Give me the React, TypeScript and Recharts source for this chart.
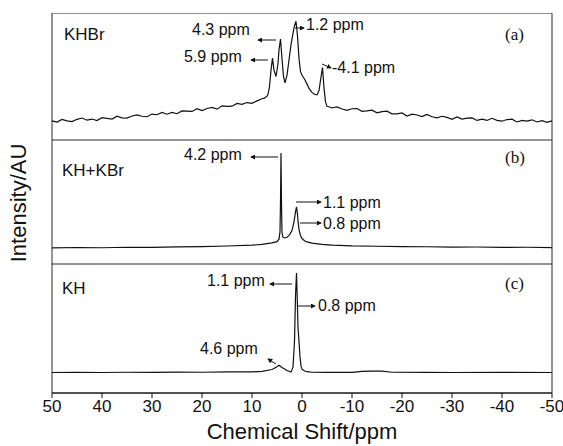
import React from "react";
import { LineChart, Line, XAxis, YAxis, ReferenceArea } from "recharts";

const FONT = '"Liberation Sans", Arial, sans-serif';

// KHBr (a)
const shiftA = [
  50, 49, 48, 47, 46, 45, 44, 43, 42, 41, 40, 39, 38, 37, 36, 35, 34, 33, 32, 31,
  30, 29, 28, 27, 26, 25, 24, 23, 22, 21, 20, 19, 18, 17, 16, 15, 14, 13, 12, 11,
  10, 9, 8, 7.5, 7, 6.8, 6.5, 6.2, 5.9, 5.6, 5.2, 4.8, 4.6, 4.3, 4.0, 3.7, 3.4, 3.0,
  2.6, 2.2, 1.8, 1.5, 1.2, 0.9, 0.6, 0.3, 0, -0.5, -1, -1.5, -2, -2.5, -3, -3.4, -3.7,
  -4.1, -4.4, -4.7, -5, -5.5, -6, -7, -8, -9, -10, -11, -12, -13, -14, -15, -16, -17,
  -18, -19, -20, -21, -22, -23, -24, -25, -26, -27, -28, -29, -30, -31, -32, -33, -34,
  -35, -36, -37, -38, -39, -40, -41, -42, -43, -44, -45, -46, -47, -48, -49, -50,
];
const intensityA = [
  15.0, 14.1, 16.2, 15.1, 14.5, 16.3, 17.3, 15.6, 16.5, 15.3, 17.6, 17.0, 16.5, 18.8, 17.4, 17.2, 18.9, 19.7, 18.7, 18.3,
  20.4, 19.9, 21.7, 20.3, 21.7, 20.7, 22.9, 22.7, 22.5, 24.6, 23.1, 24.8, 25.6, 24.3, 26.9, 26.5, 26.6, 28.8, 28.1, 29.5,
  28.9, 30.8, 32.5, 33.0, 34.5, 36, 42, 55, 64.5, 55, 50, 60, 71, 79.5, 64, 50, 45, 51,
  63, 75, 84, 90, 93.5, 82, 64, 54, 51, 48, 44, 40, 37.5, 36, 35.5, 39, 47,
  57, 41, 30, 26.5, 26.0, 25.2, 26.1, 24.4, 23.3, 24.6, 24.8, 22.6, 23.0, 23.5, 21.4, 22.3, 22.7,
  20.6, 20.6, 21.3, 18.9, 20.3, 19.7, 18.4, 20.2, 18.3, 17.4, 18.7, 17.8, 16.3, 18.2, 16.5, 17.2, 17.4,
  15.4, 16.4, 15.4, 17.1, 15.5, 14.8, 16.1, 16.4, 14.2, 15.5, 14.9, 15.9, 14.2, 15.3, 13.9, 15.1,
];

// KH+KBr (b)
const shiftB = [
  50, 45, 40, 35, 30, 25, 20, 15, 10, 8, 6, 5, 4.6, 4.4, 4.3, 4.2, 4.1, 4.0, 3.8, 3.4,
  3.0, 2.5, 2.0, 1.6, 1.3, 1.1, 0.9, 0.8, 0.6, 0.3, 0, -0.5, -1, -2, -4, -6, -10, -15,
  -20, -25, -30, -35, -40, -45, -50,
];
const intensityB = [
  13.0, 13.3, 13.1, 13.5, 13.4, 13.8, 14.0, 14.5, 15.2, 15.9, 17.0, 18.0, 20, 26, 50, 89.5, 48, 25, 21.5, 21,
  21.5, 23.5, 27, 34, 42, 46, 40, 35, 28, 23, 20.5, 18.8, 17.8, 16.8, 15.9, 15.3, 14.6, 14.3,
  14.0, 13.9, 13.6, 13.7, 13.4, 13.5, 13.2,
];

// KH (c)
const shiftC = [
  50, 45, 40, 35, 30, 25, 20, 15, 10, 8, 6, 5, 4.6, 4.0, 3.0, 2.2, 1.8, 1.5, 1.3, 1.1,
  1.0, 0.8, 0.6, 0.4, 0.2, 0, -0.5, -1, -2, -5, -10, -12, -14, -16, -18, -25, -30, -40, -50,
];
const intensityC = [
  15.9, 16.0, 15.9, 16.1, 16.0, 16.2, 16.1, 16.3, 16.3, 16.8, 18.2, 20.3, 21.5, 19.8, 17.4, 16.2, 20, 40, 75, 93,
  80, 51, 40, 28, 21, 18.5, 17, 16.5, 16.1, 16.0, 16.0, 16.8, 17.0, 16.9, 16.1, 16.0, 15.9, 16.0, 15.9,
];

const xTicks = [50, 40, 30, 20, 10, 0, -10, -20, -30, -40, -50];

const toRows = (xs: number[], ys: number[]) => xs.map((x, i) => ({ x, y: ys[i] }));

function Panel({ rows, height, showAxis }: { rows: { x: number; y: number }[]; height: number; showAxis?: boolean }) {
  return (
    <LineChart width={563} height={height} data={rows} margin={{ top: 0, right: 11, left: 52, bottom: 0 }}>
      <XAxis
        dataKey="x"
        type="number"
        domain={[-50, 50]}
        reversed
        ticks={xTicks}
        hide={!showAxis}
        height={28}
        tick={{ fontSize: 17, fill: "#111", fontFamily: FONT }}
        tickSize={5}
        axisLine={{ stroke: "#111" }}
        tickLine={{ stroke: "#111" }}
        interval={0}
      />
      <YAxis type="number" domain={[0, 100]} hide />
      <ReferenceArea x1={50} x2={-50} y1={0} y2={100} fill="none" stroke="#2a2a2a" strokeWidth={1} />
      <Line dataKey="y" type="linear" stroke="#111" strokeWidth={1.2} dot={false} isAnimationActive={false} />
    </LineChart>
  );
}

export default function App() {
  const txt = { fontFamily: FONT, fill: "#111" } as const;
  const serif = { fontFamily: '"Liberation Serif", "Times New Roman", serif', fill: "#111" } as const;
  return (
    <div style={{ position: "absolute", left: 0, top: 0, width: 563, height: 446, background: "#fff" }}>
      <div style={{ position: "absolute", left: 0, top: 13 }}>
        <Panel rows={toRows(shiftA, intensityA)} height={127} />
      </div>
      <div style={{ position: "absolute", left: 0, top: 140 }}>
        <Panel rows={toRows(shiftB, intensityB)} height={124} />
      </div>
      <div style={{ position: "absolute", left: 0, top: 264 }}>
        <Panel rows={toRows(shiftC, intensityC)} height={157} showAxis />
      </div>
      <svg width={563} height={446} style={{ position: "absolute", left: 0, top: 0, pointerEvents: "none" }}>
        <defs>
          <marker id="ah" viewBox="0 0 6 6" refX="5" refY="3" markerWidth="5" markerHeight="5" orient="auto">
            <path d="M0,0 L6,3 L0,6 z" fill="#111" />
          </marker>
        </defs>
        <g stroke="#111" strokeWidth={1} markerEnd="url(#ah)">
          {/* (a) */}
          <line x1={276} y1={40} x2={258} y2={40} />
          <line x1={268} y1={60} x2={251} y2={60} />
          <line x1={295} y1={28} x2={304} y2={28} />
          <line x1={322} y1={64} x2={331} y2={68} />
          {/* (b) */}
          <line x1={278} y1={157} x2={251} y2={157} />
          <line x1={296} y1={202} x2={321} y2={202} />
          <line x1={300} y1={223} x2={321} y2={223} />
          {/* (c) */}
          <line x1={292} y1={284} x2={270} y2={284} />
          <line x1={297} y1={306} x2={315} y2={306} />
          <line x1={276} y1={364} x2={268} y2={359} />
        </g>
        <text x={64} y={40} fontSize={17} style={txt}>KHBr</text>
        <text x={505} y={40} fontSize={17} style={serif}>(a)</text>
        <text x={192} y={35} fontSize={16} style={txt}>4.3 ppm</text>
        <text x={184} y={62} fontSize={16} style={txt}>5.9 ppm</text>
        <text x={306} y={30} fontSize={16} style={txt}>1.2 ppm</text>
        <text x={332} y={73} fontSize={16} style={txt}>-4.1 ppm</text>

        <text x={62} y={176} fontSize={17} style={txt}>KH+KBr</text>
        <text x={505} y={163} fontSize={17} style={serif}>(b)</text>
        <text x={184} y={160} fontSize={16} style={txt}>4.2 ppm</text>
        <text x={323} y={208} fontSize={16} style={txt}>1.1 ppm</text>
        <text x={323} y={229} fontSize={16} style={txt}>0.8 ppm</text>

        <text x={62} y={294} fontSize={17} style={txt}>KH</text>
        <text x={505} y={289} fontSize={17} style={serif}>(c)</text>
        <text x={207} y={286} fontSize={16} style={txt}>1.1 ppm</text>
        <text x={318} y={311} fontSize={16} style={txt}>0.8 ppm</text>
        <text x={200} y={354} fontSize={16} style={txt}>4.6 ppm</text>

        <text x={302} y={439} fontSize={22} textAnchor="middle" style={txt}>Chemical Shift/ppm</text>
        <text x={0} y={0} fontSize={22} textAnchor="middle" transform="translate(26,203) rotate(-90)" style={txt}>Intensity/AU</text>
      </svg>
    </div>
  );
}
